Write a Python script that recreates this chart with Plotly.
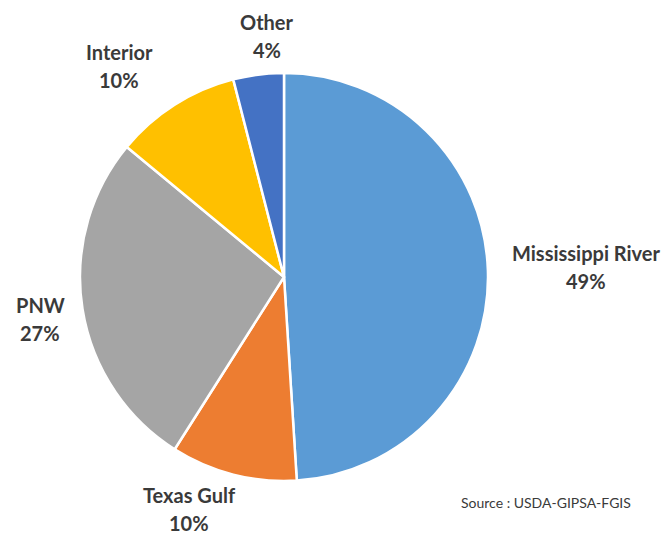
import plotly.graph_objects as go

# Share of grain inspections by port region
regions = ["Mississippi River", "Texas Gulf", "PNW", "Interior", "Other"]
shares = [49, 10, 27, 10, 4]
colors = ["#5B9BD5", "#ED7D31", "#A5A5A5", "#FFC000", "#4472C4"]

W, H = 669, 537

# Callout centre (px) for the name line of each region; the percent sits one line below
label_px_x = [586, 189, 40, 119, 267]
label_px_y = [253, 495, 305, 52, 22]
LINE_GAP = 28

fig = go.Figure(
    go.Pie(
        labels=regions,
        values=shares,
        sort=False,
        direction="clockwise",
        rotation=0,
        marker=dict(colors=colors, line=dict(color="white", width=2.5)),
        textinfo="none",
        hoverinfo="label+percent",
        domain=dict(x=[80 / W, 488 / W], y=[1 - 481 / H, 1 - 73 / H]),
        showlegend=False,
    )
)

label_font = dict(family="Lato, 'Open Sans', sans-serif", size=20, color="#3a3a3a")
for name, val, px, py in zip(regions, shares, label_px_x, label_px_y):
    for text, yy in ((name, py), (f"{val}%", py + LINE_GAP)):
        fig.add_annotation(
            x=px / W, y=1 - yy / H, xref="paper", yref="paper",
            text=f"<b>{text}</b>",
            showarrow=False, xanchor="center", yanchor="middle",
            font=label_font, align="center",
        )

fig.add_annotation(
    x=546 / W, y=1 - 502 / H, xref="paper", yref="paper",
    text="Source : USDA-GIPSA-FGIS",
    showarrow=False, xanchor="center", yanchor="middle",
    font=dict(family="Lato, 'Open Sans', sans-serif", size=14, color="#3a3a3a"),
)

fig.update_layout(
    width=W, height=H,
    margin=dict(l=0, r=0, t=0, b=0),
    paper_bgcolor="white",
    plot_bgcolor="white",
)

fig.write_html("out.html")
